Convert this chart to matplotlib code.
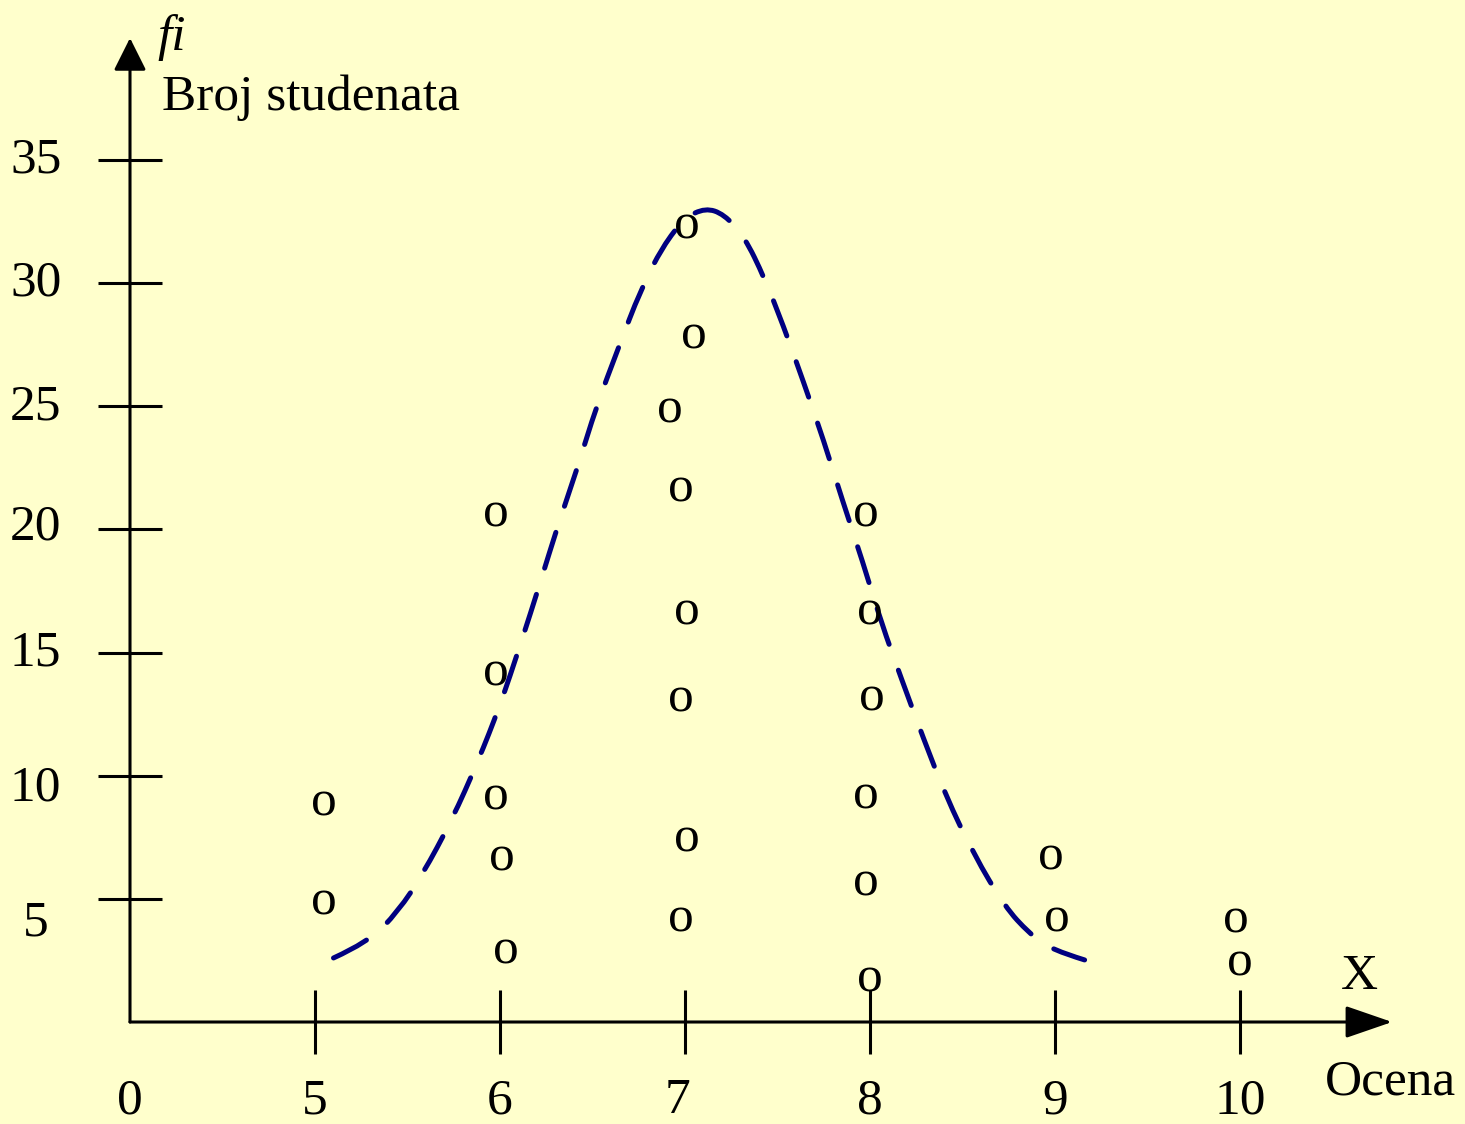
import matplotlib
matplotlib.use("Agg")
import matplotlib.pyplot as plt
from matplotlib.path import Path
from matplotlib.patches import PathPatch
from matplotlib.transforms import offset_copy

# Grades on the horizontal axis; the axis is broken between 0 and 5,
# so the origin sits one grade-step to the left of grade 5.
axis_origin = 4
grade_ticks = [5, 6, 7, 8, 9, 10]
x_tick_labels = ["0", "5", "6", "7", "8", "9", "10"]
y_ticks = [5, 10, 15, 20, 25, 30, 35]

# Individual observations, each drawn as a letter "o"
obs_grade = [5.05, 5.05,
             5.98, 5.98, 5.98, 6.01, 6.03,
             7.01, 7.05, 6.92, 6.98, 7.01, 6.98, 7.01, 6.98,
             7.98, 8.00, 8.01, 7.98, 7.98, 8.00,
             8.98, 9.01,
             9.98, 10.00]
obs_freq = [8.85, 4.83,
            20.58, 14.13, 9.09, 6.62, 2.84,
            32.28, 27.81, 24.81, 21.60, 16.61, 13.08, 7.39, 4.14,
            20.58, 16.61, 13.11, 9.14, 5.60, 1.71,
            6.66, 4.14,
            4.10, 2.35]

# Bell-shaped frequency curve (points along the curve)
curve_grade = [5.10, 5.29, 5.45, 5.58, 5.74, 5.88, 6.00, 6.11, 6.22, 6.31,
               6.42, 6.52, 6.64, 6.76, 6.88, 7.00, 7.11, 7.21, 7.32, 7.43,
               7.53, 7.64, 7.75, 7.85, 7.96, 8.06, 8.17, 8.29, 8.41, 8.56,
               8.73, 8.86, 8.97, 9.16]
curve_freq = [2.60, 3.25, 4.50, 5.97, 8.20, 10.56, 12.85, 15.31, 17.90, 20.10,
              22.53, 24.97, 27.37, 29.72, 31.50, 32.65, 33.05, 32.80, 31.90, 30.20,
              28.30, 26.00, 23.60, 21.20, 18.70, 16.24, 13.93, 11.49, 9.18, 6.82,
              4.67, 3.61, 2.96, 2.52]

BG = "#FFFFCC"
NAVY = "#000080"
SERIF = ["Liberation Serif", "DejaVu Serif"]
FS = 37

fig = plt.figure(figsize=(14.65, 11.24), dpi=100, facecolor=BG)
ax = fig.add_axes([0, 0, 1, 1])
ax.set_facecolor(BG)
ax.set_xlim(3.2973, 11.2162)
ax.set_ylim(-4.141, 41.494)
ax.axis("off")


def glyph_text(x, y, s, glyph_h=0.676, size=FS, ha="center", style="normal", dy=0.0):
    """Place text so that the middle of its glyphs lies at (x, y), shifted dy points."""
    tr = offset_copy(ax.transData, fig=fig, y=-glyph_h * size / 2 + dy, units="points")
    ax.text(x, y, s, transform=tr, ha=ha, va="baseline", fontsize=size,
            family=SERIF, style=style, color="black")


# Axes with arrowheads
ax.annotate("", xy=(axis_origin, 39.95), xytext=(axis_origin, 0),
            arrowprops=dict(arrowstyle="-|>,head_length=2.0,head_width=1.0",
                            lw=2.2, color="black", shrinkA=0, shrinkB=0))
ax.annotate("", xy=(10.822, 0), xytext=(axis_origin, 0),
            arrowprops=dict(arrowstyle="-|>,head_length=2.9,head_width=1.0",
                            lw=2.2, color="black", shrinkA=0, shrinkB=0))

# Tick marks crossing the axes
ax.hlines(y_ticks, axis_origin - 0.173, axis_origin + 0.173, color="black", lw=2.2)
ax.vlines(grade_ticks, -1.30, 1.30, color="black", lw=2.2)

# Tick labels (small vertical nudges in points)
y_label_nudge = {35: 3.5, 30: 3.5, 25: 3.0, 20: 5.0, 15: 3.0, 10: -5.0, 5: -14.0}
for v in y_ticks:
    glyph_text(axis_origin - 0.51, v, str(v), dy=y_label_nudge[v])
x_label_nudge = {"7": -0.04}
for g, lab in zip([axis_origin] + grade_ticks, x_tick_labels):
    glyph_text(g + x_label_nudge.get(lab, 0.0), -3.17, lab, dy=3.0)

# Bell curve drawn as a smooth chain of quadratic Bezier pieces
pts = list(zip(curve_grade, curve_freq))
verts = [pts[0]]
codes = [Path.MOVETO]
for i in range(1, len(pts) - 2):
    mid = ((pts[i][0] + pts[i + 1][0]) / 2, (pts[i][1] + pts[i + 1][1]) / 2)
    verts += [pts[i], mid]
    codes += [Path.CURVE3, Path.CURVE3]
verts += [pts[-2], pts[-1]]
codes += [Path.CURVE3, Path.CURVE3]
curve = PathPatch(Path(verts, codes), facecolor="none", edgecolor=NAVY, lw=3.6,
                  linestyle=(0, (7.5, 5.5)), capstyle="round")
ax.add_patch(curve)

# Observations
for gx, fy in zip(obs_grade, obs_freq):
    glyph_text(gx, fy, "o", glyph_h=0.45)

# Axis titles
glyph_text(axis_origin + 0.15, 40.2, "fi", glyph_h=0.70, ha="left", style="italic")
glyph_text(axis_origin + 0.174, 37.75, "Broj studenata", ha="left")
glyph_text(10.644, 2.04, "X")
glyph_text(10.811, -2.25, "Ocena")

fig.savefig("out.png", dpi=100, facecolor=BG)
